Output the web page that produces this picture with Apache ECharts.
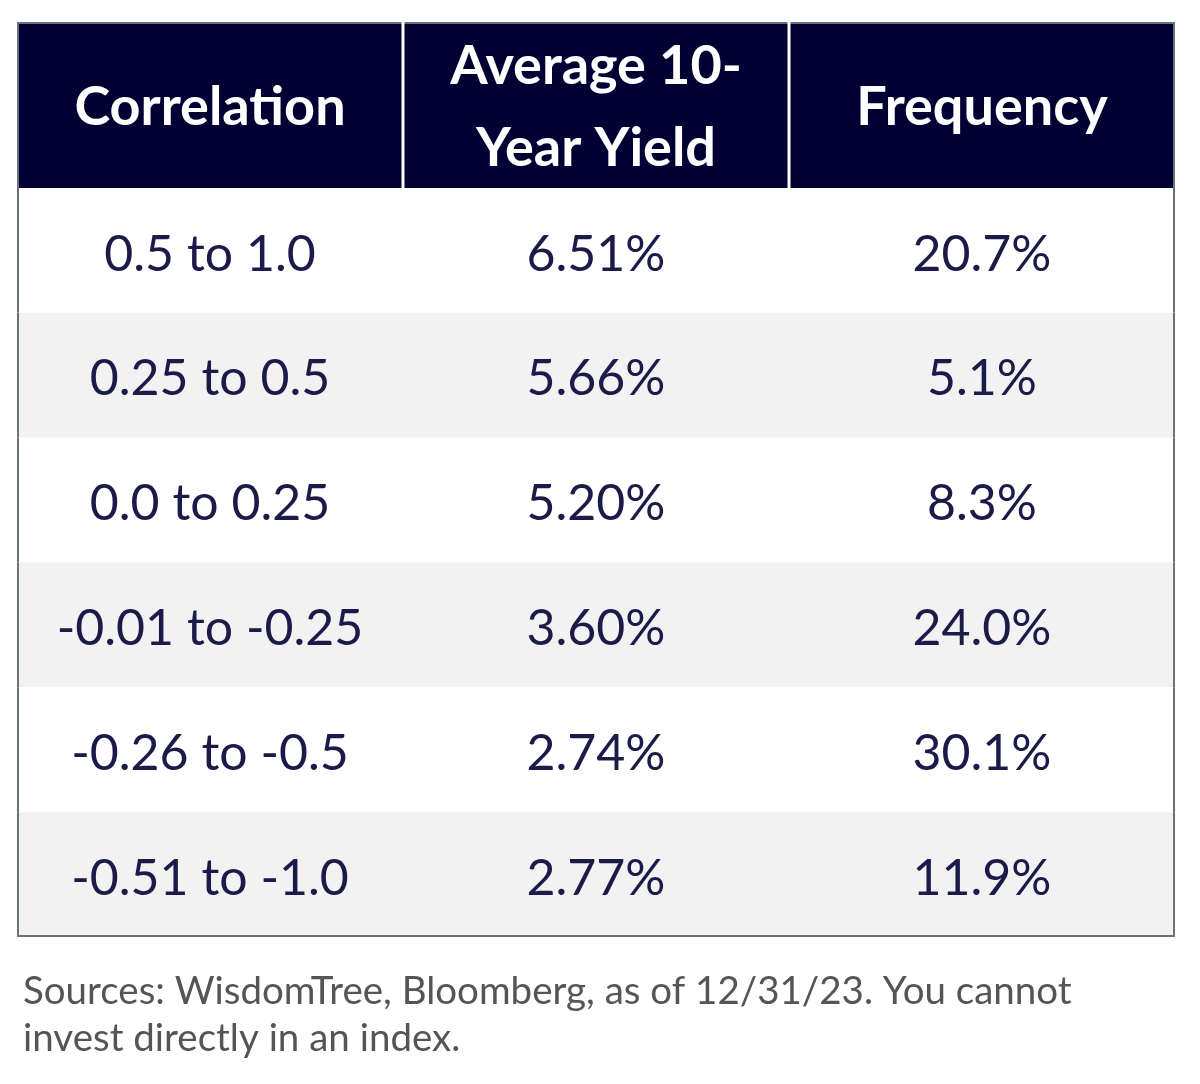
<!DOCTYPE html>
<html>
<head>
<meta charset="utf-8">
<script src="https://cdn.jsdelivr.net/npm/echarts@6/dist/echarts.min.js"></script>
<style>html,body{margin:0;padding:0;background:#fff}#c{width:1200px;height:1084px}</style>
</head>
<body>
<div id="c"></div>
<script>
const headers = ['Correlation', 'Average 10-\nYear Yield', 'Frequency'];
const correlation = ['0.5 to 1.0', '0.25 to 0.5', '0.0 to 0.25', '-0.01 to -0.25', '-0.26 to -0.5', '-0.51 to -1.0'];
const avgYield = [6.51, 5.66, 5.20, 3.60, 2.74, 2.77];
const frequency = [20.7, 5.1, 8.3, 24.0, 30.1, 11.9];
const footnote = 'Sources: WisdomTree, Bloomberg, as of 12/31/23. You cannot\ninvest directly in an index.';

const FONT = 'Lato, "Source Sans Pro", "Noto Sans", sans-serif';
const BORDER = '#6b7178';
const NAVY = '#000033';
const TEXT = '#1b1b4a';

const headerData = headers.map((h, i) => [i, 0]);
const bodyData = [];
correlation.forEach((c, r) => { for (let k = 0; k < 3; k++) bodyData.push([k, r]); });

function cellText(c, r) {
  if (c === 0) return correlation[r];
  if (c === 1) return avgYield[r].toFixed(2) + '%';
  return frequency[r].toFixed(1) + '%';
}

const chart = echarts.init(document.getElementById('c'), null, {renderer: 'canvas'});
chart.setOption({
  animation: false,
  backgroundColor: '#fff',
  title: {
    text: footnote, left: 18, top: 963,
    textStyle: {fontFamily: FONT, fontSize: 38.5, fontWeight: 'normal', color: '#555555', lineHeight: 47}
  },
  grid: [
    {left: 17, top: 22, width: 1158, height: 166},
    {left: 17, top: 188, width: 1158, height: 749}
  ],
  xAxis: [
    {type: 'category', gridIndex: 0, data: headers, show: false},
    {type: 'category', gridIndex: 1, data: headers, show: false}
  ],
  yAxis: [
    {type: 'category', gridIndex: 0, data: ['header'], show: false},
    {type: 'category', gridIndex: 1, data: correlation, show: false, inverse: true}
  ],
  series: [
    {
      type: 'custom', xAxisIndex: 0, yAxisIndex: 0, data: headerData,
      renderItem: function (params, api) {
        const c = api.value(0);
        const p = api.coord([c, 0]);
        const s = api.size([1, 1]);
        const x0 = p[0] - s[0] / 2, y0 = p[1] - s[1] / 2;
        const ch = [
          {type: 'rect', shape: {x: x0, y: y0, width: s[0], height: s[1]}, style: {fill: NAVY}},
          {type: 'text', style: {text: headers[c], x: p[0], y: p[1] + 3, align: 'center', verticalAlign: 'middle',
            fontFamily: FONT, fontSize: 54, fontWeight: 'bold', fill: '#ffffff', lineHeight: 82}},
          {type: 'line', shape: {x1: x0, y1: y0 + 1, x2: x0 + s[0], y2: y0 + 1}, style: {stroke: BORDER, lineWidth: 2}}
        ];
        if (c > 0) ch.push({type: 'line', shape: {x1: x0, y1: y0, x2: x0, y2: y0 + s[1]}, style: {stroke: '#ffffff', lineWidth: 3}});
        if (c === 0) ch.push({type: 'line', shape: {x1: x0 + 1, y1: y0, x2: x0 + 1, y2: y0 + s[1]}, style: {stroke: BORDER, lineWidth: 2}});
        if (c === 2) ch.push({type: 'line', shape: {x1: x0 + s[0] - 1, y1: y0, x2: x0 + s[0] - 1, y2: y0 + s[1]}, style: {stroke: BORDER, lineWidth: 2}});
        return {type: 'group', children: ch};
      }
    },
    {
      type: 'custom', xAxisIndex: 1, yAxisIndex: 1, data: bodyData,
      renderItem: function (params, api) {
        const c = api.value(0), r = api.value(1);
        const p = api.coord([c, r]);
        const s = api.size([1, 1]);
        const x0 = p[0] - s[0] / 2, y0 = p[1] - s[1] / 2;
        const ch = [
          {type: 'rect', shape: {x: x0, y: y0, width: s[0], height: s[1]}, style: {fill: r % 2 ? '#f2f2f2' : '#ffffff'}},
          {type: 'text', style: {text: cellText(c, r), x: p[0], y: p[1] + 4, align: 'center', verticalAlign: 'middle',
            fontFamily: FONT, fontSize: 50, fontWeight: 'normal', fill: TEXT}}
        ];
        if (c === 0) ch.push({type: 'line', shape: {x1: x0 + 1, y1: y0, x2: x0 + 1, y2: y0 + s[1]}, style: {stroke: BORDER, lineWidth: 2}});
        if (c === 2) ch.push({type: 'line', shape: {x1: x0 + s[0] - 1, y1: y0, x2: x0 + s[0] - 1, y2: y0 + s[1]}, style: {stroke: BORDER, lineWidth: 2}});
        if (r === correlation.length - 1) ch.push({type: 'line', shape: {x1: x0, y1: y0 + s[1] - 1, x2: x0 + s[0], y2: y0 + s[1] - 1}, style: {stroke: BORDER, lineWidth: 2}});
        return {type: 'group', children: ch};
      }
    }
  ]
});
</script>
</body>
</html>
